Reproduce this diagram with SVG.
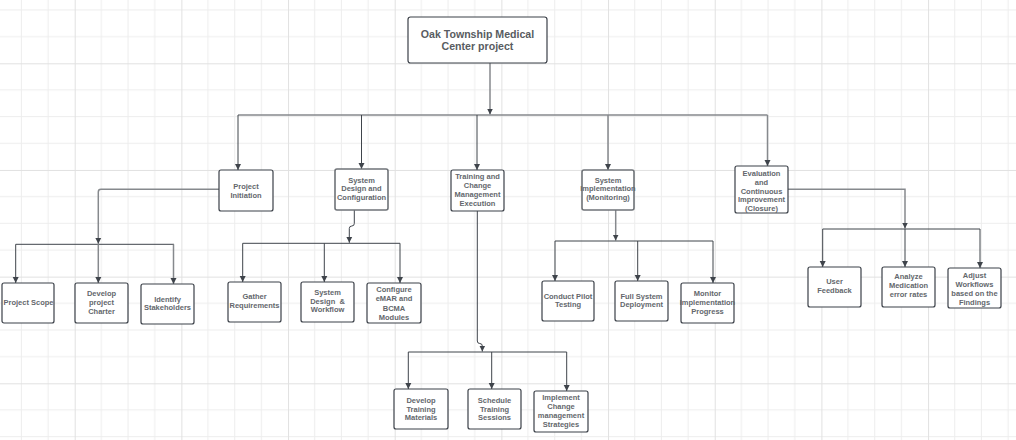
<svg xmlns="http://www.w3.org/2000/svg" width="1016" height="440" viewBox="0 0 1016 440">
  <defs>
    <!-- background grid: minor lines every 26.67px, a stronger line every 4th -->
    <pattern id="grid" patternUnits="userSpaceOnUse" x="74.7" y="63.3" width="106.67" height="106.67">
      <path d="M26.67,0V106.67M53.33,0V106.67M80,0V106.67M0,26.67H106.67M0,53.33H106.67M0,80H106.67" stroke="#ededed" stroke-width="1" fill="none"/>
      <path d="M0.5,0V106.67M0,0.5H106.67" stroke="#e1e1e1" stroke-width="1" fill="none"/>
    </pattern>
    <marker id="arrow" markerUnits="userSpaceOnUse" markerWidth="7" markerHeight="7" refX="6" refY="3.5" orient="auto">
      <path d="M0,0.5 L6,3.5 L0,6.5 Z" fill="#3f444b"/>
    </marker>
    <style>
      .box { fill: #ffffff; stroke: #3b4048; stroke-width: 1.2; }
      .box.soft { stroke: #6f7378; stroke-width: 1.6; }
      .t { font-family: "Liberation Sans", Arial, sans-serif; font-weight: bold; font-size: 7.5px; fill: #63676c; text-anchor: middle; dominant-baseline: central; }
      .title { font-size: 10.6px; fill: #585c61; }
      .c { fill: none; stroke: #3f444b; stroke-width: 1; marker-end: url(#arrow); }
      .c.g { stroke: #86898d; stroke-width: 1.5; }
      .bus { fill: none; stroke: #3f444b; stroke-width: 1; }
      .bus.g { stroke: #86898d; stroke-width: 1.3; }
    </style>
  </defs>

  <rect width="1016" height="440" fill="#ffffff"/>
  <rect width="1016" height="440" fill="url(#grid)"/>

  <!-- connectors -->
  <g id="connectors">
    <!-- root to phases -->
    <path class="c g" d="M490,63 V114.5"/>
    <path class="bus g" d="M238,115 H767.5"/>
    <path class="c" d="M238,115 V170"/>
    <path class="c" d="M361.5,115 V169"/>
    <path class="c" d="M477,115 V170"/>
    <path class="c g" d="M608,115 V170"/>
    <path class="c g" d="M767.5,115 V166"/>

    <!-- Project Initiation: leaves from the left side -->
    <path class="c g" d="M219,189.3 H101 Q98.3,189.3 98.3,192 V243.8"/>
    <path class="bus" d="M15.7,244.3 H174"/>
    <path class="c" d="M15.7,244.3 V283"/>
    <path class="c g" d="M98.3,244.3 V283"/>
    <path class="c g" d="M173.5,244.3 V284"/>

    <!-- System Design and Configuration -->
    <path class="c" d="M354.3,210 V223.5 Q354.3,226 351.8,226 Q349.3,226 349.3,228.5 V242.8"/>
    <path class="bus" d="M242.7,243.3 H400"/>
    <path class="c" d="M242.7,243.3 V282"/>
    <path class="c" d="M324.3,243.3 V282"/>
    <path class="c" d="M400,243.3 V283"/>

    <!-- Training and Change Management Execution -->
    <path class="c" d="M477.3,211 V341 Q477.3,343.5 479.8,343.5 Q482.3,343.5 482.3,346 V351.5"/>
    <path class="bus" d="M408.3,352 H566.7"/>
    <path class="c" d="M408.3,352 V389"/>
    <path class="c" d="M491.7,352 V389"/>
    <path class="c" d="M566.7,352 V391"/>

    <!-- System Implementation -->
    <path class="c g" d="M615.7,210 V240.5"/>
    <path class="bus" d="M555,241 H713"/>
    <path class="c" d="M555,241 V281"/>
    <path class="c" d="M637.7,241 V281"/>
    <path class="c" d="M713,241 V283"/>

    <!-- Evaluation -->
    <path class="c g" d="M788,189.3 H905 V228.5"/>
    <path class="bus" d="M822.7,229 H980"/>
    <path class="c" d="M822.7,229 V267"/>
    <path class="c" d="M905,229 V267"/>
    <path class="c" d="M980,229 V268"/>
  </g>

  <!-- root -->
  <g id="root">
    <rect class="box" x="408" y="17" width="139" height="46" rx="2.5"/>
    <text class="t title" x="477.5" y="34"><tspan x="477.5">Oak Township Medical</tspan><tspan x="477.5" dy="11.8">Center project</tspan></text>
  </g>

  <!-- phases -->
  <g id="project-initiation">
    <rect class="box" x="219" y="170" width="54" height="41" rx="2"/>
    <text class="t" x="246" y="186"><tspan x="246">Project</tspan><tspan x="246" dy="8.8">Initiation</tspan></text>
  </g>
  <g id="system-design">
    <rect class="box soft" x="335" y="169" width="53" height="41" rx="2"/>
    <text class="t" x="361.5" y="179.5"><tspan x="361.5">System</tspan><tspan x="361.5" dy="8.8">Design and</tspan><tspan x="361.5" dy="8.8">Configuration</tspan></text>
  </g>
  <g id="training">
    <rect class="box" x="451" y="170" width="53" height="41" rx="2"/>
    <text class="t" x="477.5" y="176.2"><tspan x="477.5">Training and</tspan><tspan x="477.5" dy="9">Change</tspan><tspan x="477.5" dy="9">Management</tspan><tspan x="477.5" dy="9">Execution</tspan></text>
  </g>
  <g id="system-implementation">
    <rect class="box soft" x="582" y="170" width="52" height="40" rx="2"/>
    <text class="t" x="608" y="180"><tspan x="608">System</tspan><tspan x="608" dy="8.4">Implementation</tspan><tspan x="608" dy="8.4">(Monitoring)</tspan></text>
  </g>
  <g id="evaluation">
    <rect class="box" x="735" y="166" width="53" height="47" rx="2"/>
    <text class="t" x="761.5" y="172.7"><tspan x="761.5">Evaluation</tspan><tspan x="761.5" dy="8.9">and</tspan><tspan x="761.5" dy="8.9">Continuous</tspan><tspan x="761.5" dy="8.9">Improvement</tspan><tspan x="761.5" dy="8.9">(Closure)</tspan></text>
  </g>

  <!-- Project Initiation tasks -->
  <g id="project-scope">
    <rect class="box" x="2" y="283" width="52" height="40" rx="2"/>
    <text class="t" x="28.5" y="302.5">Project Scope</text>
  </g>
  <g id="develop-charter">
    <rect class="box" x="75" y="283" width="53" height="40" rx="2"/>
    <text class="t" x="101.5" y="293.3"><tspan x="101.5">Develop</tspan><tspan x="101.5" dy="8.7">project</tspan><tspan x="101.5" dy="8.7">Charter</tspan></text>
  </g>
  <g id="identify-stakeholders">
    <rect class="box" x="141" y="284" width="53" height="40" rx="2"/>
    <text class="t" x="167.5" y="298.7"><tspan x="167.5">Identify</tspan><tspan x="167.5" dy="8.7">Stakeholders</tspan></text>
  </g>

  <!-- System Design tasks -->
  <g id="gather-requirements">
    <rect class="box" x="228" y="282" width="53" height="40" rx="2"/>
    <text class="t" x="254.5" y="295.7"><tspan x="254.5">Gather</tspan><tspan x="254.5" dy="9">Requirements</tspan></text>
  </g>
  <g id="system-design-workflow">
    <rect class="box" x="301" y="282" width="53" height="40" rx="2"/>
    <text class="t" x="327.5" y="292" xml:space="preserve"><tspan x="327.5">System</tspan><tspan x="327.5" dy="8.7">Design  &amp;</tspan><tspan x="327.5" dy="8.7">Workflow</tspan></text>
  </g>
  <g id="configure-emar">
    <rect class="box" x="367" y="283" width="54" height="40" rx="2"/>
    <text class="t" x="394" y="289.3"><tspan x="394">Configure</tspan><tspan x="394" dy="9">eMAR and</tspan><tspan x="394" dy="9.3">BCMA</tspan><tspan x="394" dy="9">Modules</tspan></text>
  </g>

  <!-- Training tasks -->
  <g id="develop-materials">
    <rect class="box" x="394" y="389" width="54" height="40" rx="2"/>
    <text class="t" x="421" y="400"><tspan x="421">Develop</tspan><tspan x="421" dy="8.7">Training</tspan><tspan x="421" dy="8.7">Materials</tspan></text>
  </g>
  <g id="schedule-sessions">
    <rect class="box" x="468" y="389" width="53" height="40" rx="2"/>
    <text class="t" x="494.5" y="400"><tspan x="494.5">Schedule</tspan><tspan x="494.5" dy="8.7">Training</tspan><tspan x="494.5" dy="8.7">Sessions</tspan></text>
  </g>
  <g id="change-strategies">
    <rect class="box" x="534" y="391" width="54" height="41" rx="2"/>
    <text class="t" x="561" y="397.3"><tspan x="561">Implement</tspan><tspan x="561" dy="8.8">Change</tspan><tspan x="561" dy="8.8">management</tspan><tspan x="561" dy="9">Strategies</tspan></text>
  </g>

  <!-- System Implementation tasks -->
  <g id="pilot-testing">
    <rect class="box" x="542" y="281" width="52" height="40" rx="2"/>
    <text class="t" x="568" y="295.7"><tspan x="568">Conduct Pilot</tspan><tspan x="568" dy="8.3">Testing</tspan></text>
  </g>
  <g id="full-deployment">
    <rect class="box" x="615" y="281" width="53" height="40" rx="2"/>
    <text class="t" x="641.5" y="295.7"><tspan x="641.5">Full System</tspan><tspan x="641.5" dy="8.6">Deployment</tspan></text>
  </g>
  <g id="monitor-progress">
    <rect class="box" x="681" y="283" width="53" height="40" rx="2"/>
    <text class="t" x="707.5" y="293.3"><tspan x="707.5">Monitor</tspan><tspan x="707.5" dy="8.9">Implementation</tspan><tspan x="707.5" dy="8.8">Progress</tspan></text>
  </g>

  <!-- Evaluation tasks -->
  <g id="user-feedback">
    <rect class="box" x="808" y="267" width="53" height="40" rx="2"/>
    <text class="t" x="834.5" y="281.3"><tspan x="834.5">User</tspan><tspan x="834.5" dy="8.7">Feedback</tspan></text>
  </g>
  <g id="analyze-errors">
    <rect class="box" x="882" y="267" width="53" height="40" rx="2"/>
    <text class="t" x="908.5" y="276.3"><tspan x="908.5">Analyze</tspan><tspan x="908.5" dy="9">Medication</tspan><tspan x="908.5" dy="9">error rates</tspan></text>
  </g>
  <g id="adjust-workflows">
    <rect class="box" x="948" y="268" width="53" height="40" rx="2"/>
    <text class="t" x="974.5" y="275"><tspan x="974.5">Adjust</tspan><tspan x="974.5" dy="9">Workflows</tspan><tspan x="974.5" dy="9.2">based on the</tspan><tspan x="974.5" dy="8.8">Findings</tspan></text>
  </g>
</svg>
